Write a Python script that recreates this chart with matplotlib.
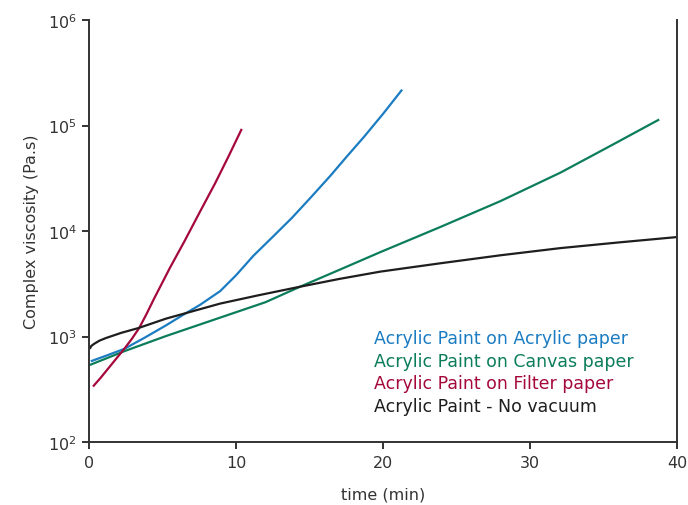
import matplotlib
matplotlib.use("Agg")
import matplotlib.pyplot as plt
import numpy as np
from matplotlib.ticker import LogLocator, NullLocator

plt.rcParams['font.family'] = ['DejaVu Sans']
plt.rcParams['mathtext.fontset'] = 'dejavusans'

# values: time in min, log10 of complex viscosity (Pa.s)
acrylic_t = [0.12, 1.2, 2.39, 3.8, 5.23, 6.4, 7.55, 8.92, 10.0, 11.18, 12.5, 13.8, 15.1, 16.41, 17.5, 18.68, 20.0, 21.3]
acrylic_log = [2.765, 2.82, 2.882, 2.99, 3.105, 3.205, 3.30, 3.43, 3.58, 3.765, 3.945, 4.124, 4.32, 4.522, 4.70, 4.888, 5.11, 5.34]

canvas_t = [0.05, 2.39, 5.23, 8.92, 12.0, 14.36, 17.0, 19.82, 23.9, 28.0, 32.08, 35.5, 38.79]
canvas_log = [2.73, 2.86, 3.004, 3.179, 3.325, 3.472, 3.63, 3.80, 4.038, 4.284, 4.554, 4.809, 5.057]

filter_t = [0.27, 0.8, 1.5, 2.39, 2.9, 3.41, 3.9, 4.43, 5.5, 6.52, 7.5, 8.57, 9.5, 10.39]
filter_log = [2.526, 2.61, 2.73, 2.882, 2.975, 3.08, 3.21, 3.36, 3.65, 3.91, 4.17, 4.45, 4.71, 4.968]

novac_t = [0.05, 0.15, 0.34, 0.7, 1.14, 2.2, 3.36, 5.23, 8.92, 11.5, 14.36, 17.0, 19.82, 23.9, 28.0, 32.08, 36.06, 40.04]
novac_log = [2.883, 2.91, 2.93, 2.96, 2.985, 3.035, 3.08, 3.169, 3.312, 3.39, 3.472, 3.545, 3.615, 3.694, 3.77, 3.838, 3.892, 3.943]

series = [
    ("Acrylic Paint on Acrylic paper", acrylic_t, acrylic_log, "#1b7cc2"),
    ("Acrylic Paint on Canvas paper", canvas_t, canvas_log, "#0b7d5b"),
    ("Acrylic Paint on Filter paper", filter_t, filter_log, "#a5093b"),
    ("Acrylic Paint - No vacuum", novac_t, novac_log, "#1e1e1e"),
]

fig = plt.figure(figsize=(6.88, 5.06), dpi=100)
ax = fig.add_axes([0.1294, 0.1245, 0.8546, 0.834])

for label, t, lv, color in series:
    ax.plot(t, 10 ** np.array(lv), color=color, lw=1.6, label=label, solid_capstyle='butt')

ax.set_yscale('log')
ax.set_xlim(0, 40)
ax.set_ylim(1e2, 1e6)
ax.set_xticks([0, 10, 20, 30, 40])
ax.yaxis.set_major_locator(LogLocator(base=10, numticks=10))
ax.yaxis.set_minor_locator(NullLocator())

for side in ['left', 'bottom', 'right']:
    ax.spines[side].set_linewidth(1.4)
    ax.spines[side].set_color('#333333')
ax.spines['top'].set_visible(False)
ax.tick_params(axis='both', direction='out', length=5, width=1.4, color='#333333',
               labelsize=11.5, labelcolor='#333333', pad=4)

ax.set_xlabel("time (min)", fontsize=11.5, color='#333333', labelpad=12)
ax.set_ylabel("Complex viscosity (Pa.s)", fontsize=11.5, color='#333333', labelpad=6)

leg = ax.legend(loc='upper left', bbox_to_anchor=(0.485, 0.268), frameon=False,
                handlelength=0, handletextpad=0, borderpad=0, borderaxespad=0,
                labelspacing=0.27, fontsize=12.5, labelcolor='linecolor')
for h in leg.legend_handles:
    h.set_visible(False)

fig.savefig("out.png", dpi=100)
